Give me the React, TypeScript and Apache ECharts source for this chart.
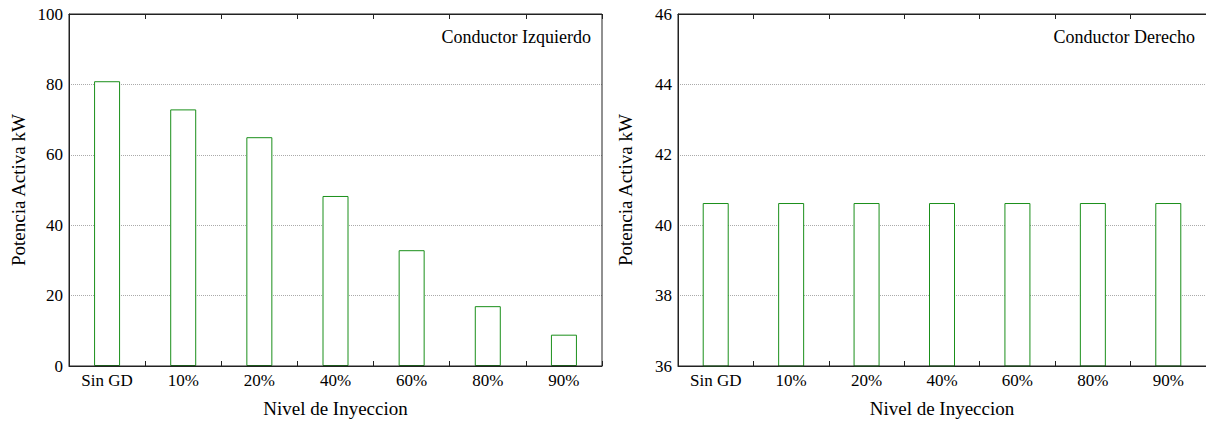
import React, { useEffect, useRef } from "react";
import * as echarts from "echarts";

const categories = ["Sin GD", "10%", "20%", "40%", "60%", "80%", "90%"];
const leftValues = [80.9, 72.9, 65.0, 48.3, 32.9, 17.0, 8.9];
const rightValues = [40.63, 40.63, 40.63, 40.63, 40.63, 40.63, 40.63];
const leftTitle = "Conductor Izquierdo";
const rightTitle = "Conductor Derecho";
const yName = "Potencia Activa kW";
const xName = "Nivel de Inyeccion";

const FONT = "Liberation Serif";
const AXIS_COLOR = "#222";
const BAR_COLOR = "#1a8f1a";

export default function App() {
  const ref = useRef<HTMLDivElement>(null);
  useEffect(() => {
    if (!ref.current) return;
    const chart = echarts.init(ref.current, undefined, { renderer: "svg" });
    const txt = { fontFamily: FONT, color: "#000" };
    const tickAxis = (g: number) => ({
      type: "value",
      gridIndex: g,
      min: 0,
      max: categories.length,
      interval: 1,
      position: "top",
      axisLine: { show: true, onZero: false, lineStyle: { color: AXIS_COLOR, width: 1 } },
      axisTick: { show: true, inside: true, length: 5, lineStyle: { color: AXIS_COLOR, width: 1 } },
      axisLabel: { show: false },
      splitLine: { show: false },
    });
    chart.setOption({
      animation: false,
      backgroundColor: "#fff",
      textStyle: { fontFamily: FONT },
      grid: [
        { left: 69, top: 14, width: 533, height: 352 },
        { left: 678, top: 14, width: 534, height: 352 },
      ],
      xAxis: [
        ...[0, 1].map((g) => ({
          type: "category",
          gridIndex: g,
          data: categories,
          position: "bottom",
          name: xName,
          nameLocation: "middle",
          nameGap: 33,
          nameTextStyle: { ...txt, fontSize: 19 },
          axisLine: { show: true, onZero: false, lineStyle: { color: AXIS_COLOR, width: 1 } },
          axisTick: { show: true, inside: true, length: 5, lineStyle: { color: AXIS_COLOR, width: 1 } },
          axisLabel: { ...txt, fontSize: 17, margin: 6 },
          splitLine: { show: false },
        })),
        tickAxis(0),
        tickAxis(1),
      ],
      yAxis: [
        [0, 100, 20, 41],
        [36, 46, 2, 43],
      ].map(([min, max, interval, gap], g) => ({
        type: "value",
        gridIndex: g,
        min,
        max,
        interval,
        name: yName,
        nameLocation: "middle",
        nameGap: gap,
        nameTextStyle: { ...txt, fontSize: 19 },
        axisLine: { show: true, onZero: false, lineStyle: { color: AXIS_COLOR, width: 1 } },
        axisTick: { show: false },
        axisLabel: { ...txt, fontSize: 17, margin: 6 },
        splitLine: { show: true, lineStyle: { type: "dotted", color: "#aaa", width: 1 } },
      })),
      series: [
        {
          type: "bar",
          xAxisIndex: 0,
          yAxisIndex: 0,
          data: leftValues,
          barWidth: 26,
          itemStyle: { color: "#fff", borderColor: BAR_COLOR, borderWidth: 1 },
        },
        {
          type: "bar",
          xAxisIndex: 1,
          yAxisIndex: 1,
          data: rightValues,
          barWidth: 26,
          itemStyle: { color: "#fff", borderColor: BAR_COLOR, borderWidth: 1 },
        },
        {
          type: "scatter",
          xAxisIndex: 2,
          yAxisIndex: 0,
          data: [],
          silent: true,
        },
        {
          type: "scatter",
          xAxisIndex: 3,
          yAxisIndex: 1,
          data: [],
          silent: true,
        },
      ],
      graphic: [
        {
          type: "rect",
          shape: { x: 69, y: 14, width: 533, height: 352 },
          style: { fill: "none", stroke: AXIS_COLOR, lineWidth: 1 },
          silent: true,
          z: 10,
        },
        {
          type: "rect",
          shape: { x: 678, y: 14, width: 534, height: 352 },
          style: { fill: "none", stroke: AXIS_COLOR, lineWidth: 1 },
          silent: true,
          z: 10,
        },
        {
          type: "text",
          x: 591,
          y: 37,
          style: {
            text: leftTitle,
            fontFamily: FONT,
            fontSize: 18,
            fill: "#000",
            align: "right",
            verticalAlign: "middle",
          },
        },
        {
          type: "text",
          x: 1195,
          y: 37,
          style: {
            text: rightTitle,
            fontFamily: FONT,
            fontSize: 18,
            fill: "#000",
            align: "right",
            verticalAlign: "middle",
          },
        },
      ],
    });
    return () => chart.dispose();
  }, []);
  return (
    <div
      ref={ref}
      style={{ position: "fixed", left: 0, top: 0, width: 1206, height: 423 }}
    />
  );
}
